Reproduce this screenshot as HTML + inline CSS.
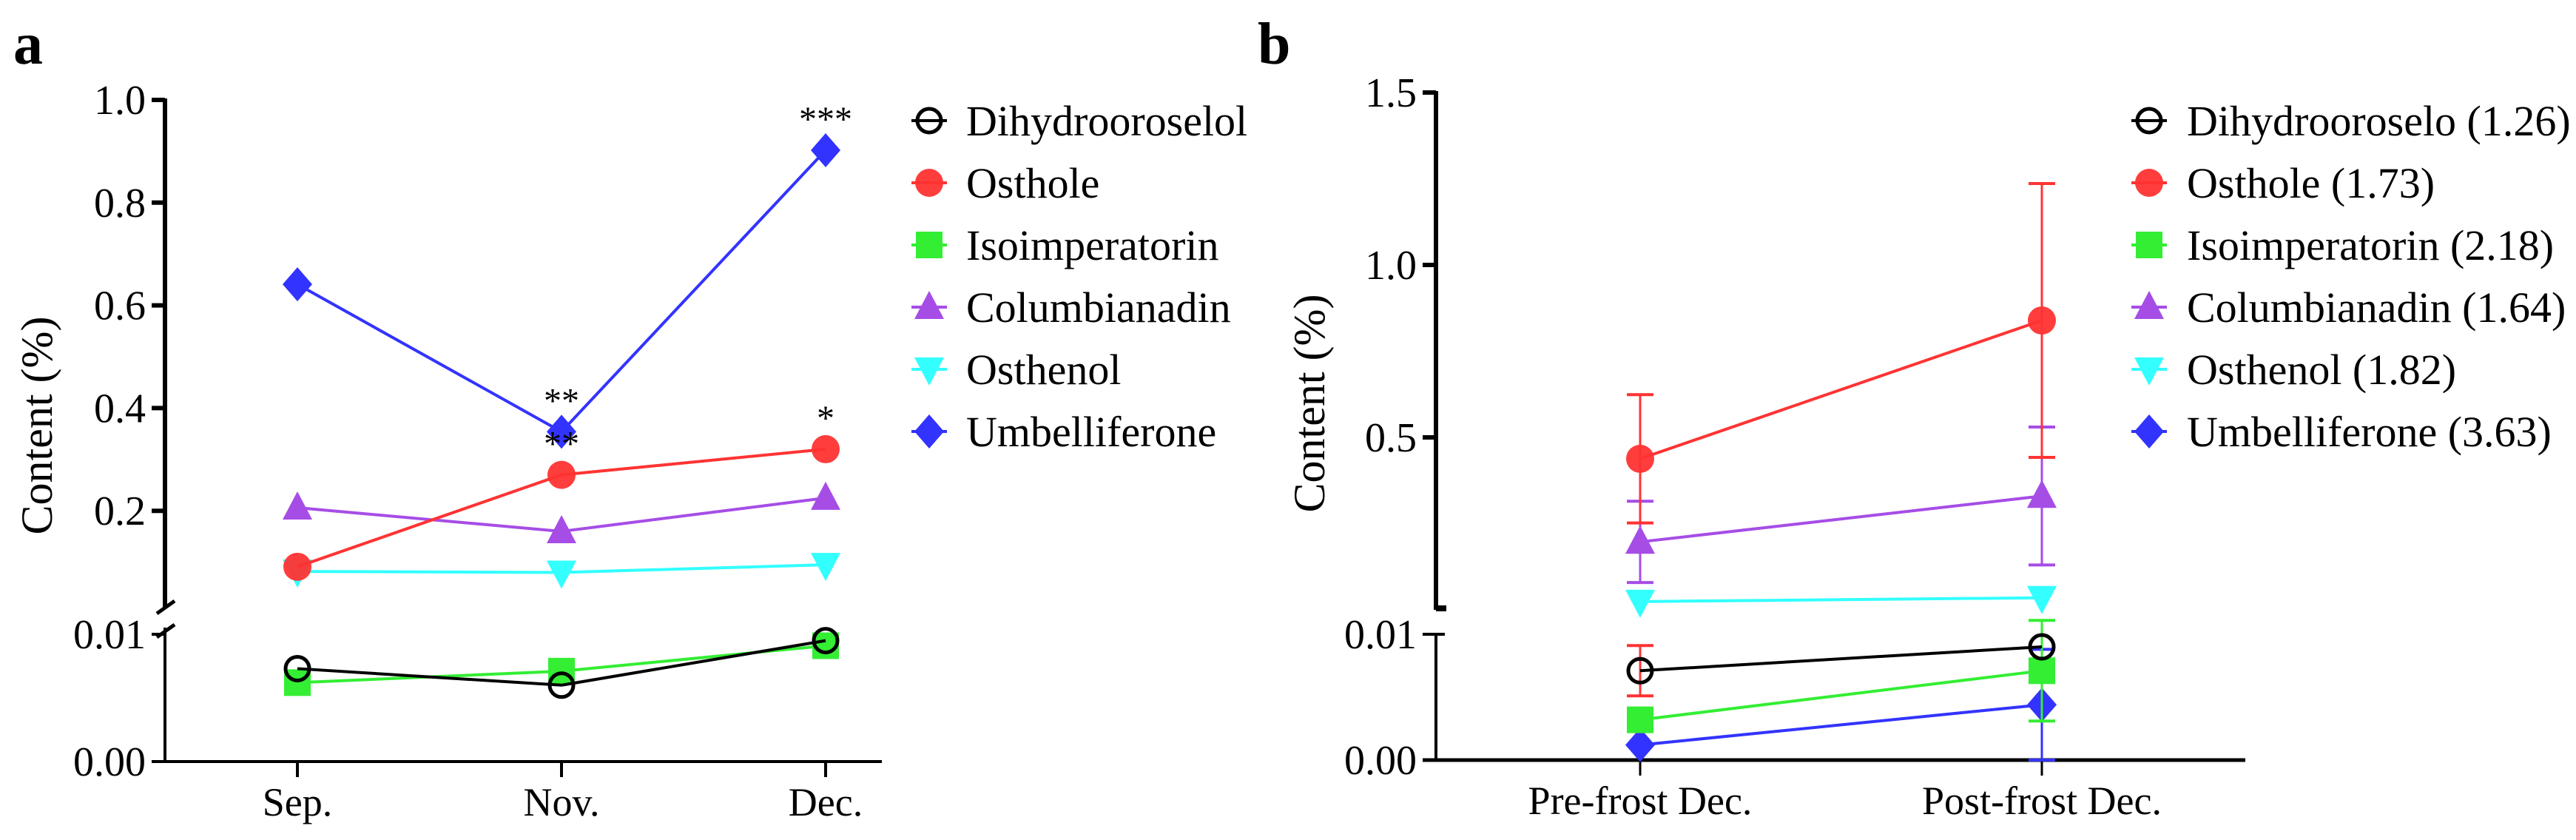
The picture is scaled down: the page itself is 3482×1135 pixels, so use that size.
<!DOCTYPE html>
<html><head><meta charset="utf-8"><style>
html,body{margin:0;padding:0;background:#fff;}
svg{display:block;font-family:"Liberation Serif",serif;}
</style></head><body>
<svg id="chart" width="3482" height="1135" viewBox="0 0 3482 1135" xmlns="http://www.w3.org/2000/svg"></svg>
<script>
// ---------- data ----------
const seriesNames = ["Dihydroorosel","Osthole","Isoimperatorin","Columbianadin","Osthenol","Umbelliferone"];
const legendA = ["Dihydrooroselol","Osthole","Isoimperatorin","Columbianadin","Osthenol","Umbelliferone"];
const legendB = ["Dihydrooroselo (1.26)","Osthole (1.73)","Isoimperatorin (2.18)","Columbianadin (1.64)","Osthenol (1.82)","Umbelliferone (3.63)"];
const catsA = ["Sep.","Nov.","Dec."];
const catsB = ["Pre-frost Dec.","Post-frost Dec."];
// panel a values (%)
const aDihydro = [0.0073,0.006,0.0095];
const aOsthole = [0.091,0.27,0.32];
const aIso = [0.0062,0.0071,0.0091];
const aColumb = [0.206,0.16,0.225];
const aOsthenol = [0.082,0.08,0.095];
const aUmbel = [0.641,0.354,0.902];
const aStars = [["","**","*"],["","**","***"]]; // [osthole, umbelliferone]
// panel b values (%)
const bDihydro = [0.0071,0.009];
const bOsthole = [0.438,0.839];
const bIso = [0.0032,0.0071];
const bColumb = [0.197,0.33];
const bOsthenol = [0.024,0.035];
const bUmbel = [0.0012,0.0044];
// panel b error (SD)
const eDihydro = [0.002,0.0];
const eOsthole = [0.186,0.397];
const eIso = [0.0,0.004];
const eColumb = [0.118,0.2];
const eOsthenol = [0,0];
const eUmbel = [0,0.0044];
const ticksAUp = [0.2,0.4,0.6,0.8,1.0];
const ticksALo = [0.00,0.01];
const ticksBUp = [0.5,1.0,1.5];
const ticksBLo = [0.00,0.01];

const colors = ["#000000","#ff3333","#33ee33","#a64de6","#33ffff","#3333ff"];
const shapes = ["ocircle","circle","square","tri","tridown","diamond"];

// ---------- scales ----------
const yAUp = v => 829 - 694*v;
const yALo = v => 1029 - 17200*v;
const xA = i => 402 + 357*i;
const yBUp = v => 824 - 466*v;
const yBLo = v => 1027 - 17000*v;
const xB = i => 2217 + 543*i;

const svg = document.getElementById('chart');
const NS = "http://www.w3.org/2000/svg";
function el(tag, attrs, parent){
  const e = document.createElementNS(NS, tag);
  for (const k in attrs) e.setAttribute(k, attrs[k]);
  (parent||svg).appendChild(e);
  return e;
}
function txt(s, x, y, size, anchor, parent){
  const t = el('text',{x:x,y:y,'font-size':size,'text-anchor':anchor||'start',fill:'#000'},parent);
  t.textContent = s;
  return t;
}
function marker(shape, color, x, y, parent){
  const r = 19;
  let m;
  if (shape==='ocircle') m = el('circle',{cx:x,cy:y,r:16,fill:'none',stroke:color,'stroke-width':5},parent);
  else if (shape==='circle') m = el('circle',{cx:x,cy:y,r:r,fill:color,'fill-opacity':0.95},parent);
  else if (shape==='square') m = el('rect',{x:x-18,y:y-18,width:36,height:36,fill:color},parent);
  else if (shape==='tri') m = el('polygon',{points:`${x},${y-22} ${x+20},${y+16} ${x-20},${y+16}`,fill:color},parent);
  else if (shape==='tridown') m = el('polygon',{points:`${x},${y+22} ${x+20},${y-16} ${x-20},${y-16}`,fill:color},parent);
  else m = el('polygon',{points:`${x},${y-23} ${x+20},${y} ${x},${y+23} ${x-20},${y}`,fill:color},parent);
  return m;
}
function drawSeries(parent, vals, xf, yf, k, errs, errColor){
  const g = el('g',{},parent);
  
  
  if (errs){
    vals.forEach((v,i)=>{
      if (!errs[i]) return;
      const c = errColor || colors[k];
      const x = xf(i), y1 = yf(v+errs[i]), y2 = yf(Math.max(0,v-errs[i]));
      el('line',{x1:x,y1:y1,x2:x,y2:y2,stroke:c,'stroke-width':3},g);
      el('line',{x1:x-18,y1:y1,x2:x+18,y2:y1,stroke:c,'stroke-width':4},g);
      el('line',{x1:x-18,y1:y2,x2:x+18,y2:y2,stroke:c,'stroke-width':4},g);
    });
  }
  const pts = vals.map((v,i)=>xf(i)+','+yf(v)).join(' ');
  el('polyline',{points:pts,fill:'none',stroke:colors[k],'stroke-width':4},g);
  vals.forEach((v,i)=>{
    const m = marker(shapes[k], colors[k], xf(i), yf(v), g);
    
    
  });
}
function legend(parent, labels, mx, tx){
  labels.forEach((s,k)=>{
    const y = 163 + 84*k;
    const g = el('g',{},parent);
    
    
    el('line',{x1:mx-24,y1:y,x2:mx+24,y2:y,stroke:colors[k],'stroke-width':4},g);
    marker(shapes[k], colors[k], mx, y, g);
    txt(s, tx, y+20, 58, 'start', g);
  });
}

// ---------- panel a ----------
const pa = el('g',{});


const la = txt('a', 18, 86, 80, 'start', pa);
la.setAttribute('font-weight','bold');


const axA = el('g',{},pa);


el('line',{x1:223,y1:yAUp(1.0)-2,x2:223,y2:822,stroke:'#000','stroke-width':6},axA);
el('line',{x1:223,y1:848,x2:223,y2:1029,stroke:'#000','stroke-width':4},axA);
el('line',{x1:212,y1:829,x2:236,y2:812,stroke:'#000','stroke-width':5},axA);
el('line',{x1:212,y1:861,x2:236,y2:844,stroke:'#000','stroke-width':5},axA);
ticksAUp.forEach(v=>{
  el('line',{x1:205,y1:yAUp(v),x2:223,y2:yAUp(v),stroke:'#000','stroke-width':6},axA);
  txt(v.toFixed(1), 197, yAUp(v)+19, 56, 'end', axA);
});
ticksALo.forEach(v=>{
  el('line',{x1:205,y1:yALo(v),x2:223,y2:yALo(v),stroke:'#000','stroke-width':4},axA);
  txt(v.toFixed(2), 197, yALo(v)+19, 56, 'end', axA);
});
const tA = txt('Content (%)', 0, 0, 60, 'middle', pa);
tA.setAttribute('transform','translate(70,575) rotate(-90)');


const xaxA = el('g',{},pa);


el('line',{x1:205,y1:1029,x2:1192,y2:1029,stroke:'#000','stroke-width':4},xaxA);
catsA.forEach((c,i)=>{
  el('line',{x1:xA(i),y1:1029,x2:xA(i),y2:1050,stroke:'#000','stroke-width':4},xaxA);
  txt(c, xA(i), 1102, 54, 'middle', xaxA);
});
drawSeries(pa, aColumb, xA, yAUp, 3);
drawSeries(pa, aOsthenol, xA, yAUp, 4);
drawSeries(pa, aOsthole, xA, yAUp, 1);
drawSeries(pa, aUmbel, xA, yAUp, 5);
drawSeries(pa, aIso, xA, yALo, 2);
drawSeries(pa, aDihydro, xA, yALo, 0);
aStars[0].forEach((s,i)=>{ if(s){ const t=txt(s, xA(i), yAUp(aOsthole[i])-26, 48, 'middle', pa);   }});
aStars[1].forEach((s,i)=>{ if(s){ const t=txt(s, xA(i), yAUp(aUmbel[i])-26, 48, 'middle', pa);   }});
const lgA = el('g',{},pa);


legend(lgA, legendA, 1256, 1306);

// ---------- panel b ----------
const pb = el('g',{});


const lb = txt('b', 1700, 86, 80, 'start', pb);
lb.setAttribute('font-weight','bold');


const axB = el('g',{},pb);


el('line',{x1:1941,y1:yBUp(1.5)-2,x2:1941,y2:824,stroke:'#000','stroke-width':6},axB);
el('line',{x1:1941,y1:857,x2:1941,y2:1027,stroke:'#000','stroke-width':4},axB);
el('line',{x1:1941,y1:822,x2:1955,y2:822,stroke:'#000','stroke-width':8},axB);
ticksBUp.forEach(v=>{
  el('line',{x1:1923,y1:yBUp(v),x2:1941,y2:yBUp(v),stroke:'#000','stroke-width':6},axB);
  txt(v.toFixed(1), 1915, yBUp(v)+19, 56, 'end', axB);
});
ticksBLo.forEach(v=>{
  el('line',{x1:1923,y1:yBLo(v),x2:1953,y2:yBLo(v),stroke:'#000','stroke-width':4},axB);
  txt(v.toFixed(2), 1915, yBLo(v)+19, 56, 'end', axB);
});
const tB = txt('Content (%)', 0, 0, 60, 'middle', pb);
tB.setAttribute('transform','translate(1790,545) rotate(-90)');


const xaxB = el('g',{},pb);


el('line',{x1:1923,y1:1027,x2:3035,y2:1027,stroke:'#000','stroke-width':5},xaxB);
catsB.forEach((c,i)=>{
  el('line',{x1:xB(i),y1:1027,x2:xB(i),y2:1048,stroke:'#000','stroke-width':3},xaxB);
  txt(c, xB(i), 1100, 54, 'middle', xaxB);
});
drawSeries(pb, bOsthenol, xB, yBUp, 4, eOsthenol);
drawSeries(pb, bColumb, xB, yBUp, 3, eColumb);
drawSeries(pb, bOsthole, xB, yBUp, 1, eOsthole);
drawSeries(pb, bUmbel, xB, yBLo, 5, eUmbel);
drawSeries(pb, bIso, xB, yBLo, 2, eIso);
drawSeries(pb, bDihydro, xB, yBLo, 0, eDihydro, '#ff3333');
const lgB = el('g',{},pb);


legend(lgB, legendB, 2905, 2956);
</script>
</body></html>
